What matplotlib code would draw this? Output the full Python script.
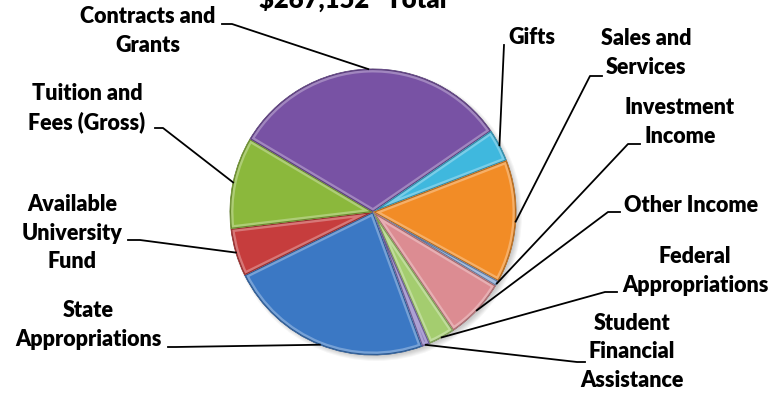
import numpy as np
import matplotlib
matplotlib.use('Agg')
import matplotlib.pyplot as plt
from matplotlib.patches import Wedge, Circle
from matplotlib.colors import to_rgb

W, H = 774, 394

sources = ['State\nAppropriations', 'Available\nUniversity\nFund', 'Tuition and\nFees (Gross)',
           'Contracts and\nGrants', 'Gifts', 'Sales and\nServices', 'Investment\nIncome',
           'Other Income', 'Federal\nAppropriations', 'Student\nFinancial\nAssistance']
amounts = [62240, 14430, 27780, 85210, 9880, 37130, 1600, 18430, 8010, 2400]
title = '$267,152* Total'

colors = ['#3b78c4', '#c63d3d', '#8bb83c', '#7852a4', '#3fb8de',
          '#f28c26', '#7d9fd0', '#dc8c92', '#a4cd6f', '#8a78c0']

# label block centre, end of the short horizontal stub, elbow (image pixels)
label_pos = [(88, 325), (72, 233), (87, 108), (148, 31), (532, 37),
             (646, 53), (680, 122), (691, 205), (695, 271), (632, 352)]
stub = [((168, 347), (176, 347)), ((128, 240), (140, 240)), ((155, 128), (163, 128)),
        ((222, 24), (232, 24)), ((504, 45), (504, 45)), ((602, 76), (590, 76)),
        ((640, 144), (628, 144)), ((620, 212), (608, 212)), ((617, 292), (605, 292)),
        ((585, 362), (577, 362))]

CX, CY, R = 373, 212, 143


def flip(y):
    return H - y


def tint(c, f):
    r, g, b = to_rgb(c)
    return (r + (1 - r) * f, g + (1 - g) * f, b + (1 - b) * f)


def shade(c, f):
    r, g, b = to_rgb(c)
    return (r * f, g * f, b * f)


plt.rcParams['font.family'] = ['Lato', 'DejaVu Sans']

fig = plt.figure(figsize=(W / 100, H / 100), dpi=100)
ax = fig.add_axes([0, 0, 1, 1])

# soft drop shadow under the pie
for k in range(6):
    ax.add_patch(Circle((CX + 3, flip(CY) - 3), R + 3 - k, color='black',
                        alpha=0.035, lw=0, zorder=0))

wedges, _ = ax.pie(amounts, colors=colors, startangle=290.1, counterclock=False,
                   center=(CX, flip(CY)), radius=R,
                   wedgeprops=dict(linewidth=0.6, edgecolor='#555555'))

# bevel: light inner rim plus a darker outline, clipped to each slice
for w, c in zip(wedges, colors):
    w.set_zorder(2)
    w.set_edgecolor(shade(c, 0.6))
    rim = Wedge(w.center, w.r, w.theta1, w.theta2, facecolor='none',
                edgecolor=tint(c, 0.3), linewidth=5, zorder=3)
    ax.add_patch(rim)
    rim.set_clip_path(w)
    dark = Wedge(w.center, w.r, w.theta1, w.theta2, facecolor='none',
                 edgecolor=shade(c, 0.75), linewidth=1.6, zorder=3)
    ax.add_patch(dark)
    dark.set_clip_path(w)

# labels and leader lines to the middle of each slice
for w, name, (tx, ty), (s0, s1) in zip(wedges, sources, label_pos, stub):
    mid = np.deg2rad((w.theta1 + w.theta2) / 2)
    ex = CX + R * np.cos(mid)
    ey = flip(CY) + R * np.sin(mid)
    ax.plot([s0[0], s1[0], ex], [flip(s0[1]), flip(s1[1]), ey],
            color='black', lw=1.3, zorder=4)
    ax.text(tx, flip(ty), name, ha='center', va='center', fontsize=15.5,
            fontweight='heavy', linespacing=1.45, zorder=5)

ax.text(353, flip(8), title, ha='center', va='baseline', fontsize=18.5,
        fontweight='heavy')

ax.set_xlim(0, W)
ax.set_ylim(0, H)
ax.set_aspect('equal')
ax.axis('off')

fig.savefig('out.png', dpi=100)
